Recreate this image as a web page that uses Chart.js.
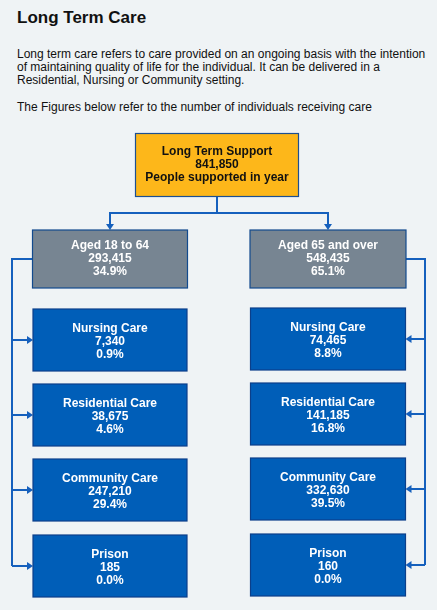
<!DOCTYPE html>
<html>
<head>
<meta charset="utf-8">
<script src="https://cdn.jsdelivr.net/npm/chart.js@4.4.1/dist/chart.umd.min.js"></script>
<style>
  body { margin: 0; background: #eff3f5; font-family: "Liberation Sans", Arial, sans-serif; }
  #wrap { position: relative; width: 437px; height: 610px; }
  h1 { position: absolute; left: 17px; top: 8px; margin: 0; font-size: 17px; font-weight: bold; color: #111; }
  .txt { position: absolute; left: 17px; margin: 0; font-size: 12px; line-height: 13px; color: #111; width: 410px; }
  #chart-box { position: absolute; left: 0; top: 120px; width: 437px; height: 490px; }
</style>
</head>
<body>
<div id="wrap">
  <h1>Long Term Care</h1>
  <p class="txt" style="top:48px">Long term care refers to care provided on an ongoing basis with the intention of maintaining quality of life for the individual. It can be delivered in a Residential, Nursing or Community setting.</p>
  <p class="txt" style="top:101px">The Figures below refer to the number of individuals receiving care</p>
  <div id="chart-box"><canvas id="c"></canvas></div>
</div>
<script>
// Nodes of the diagram: labels, counts, shares
const nodeLabels = ["Long Term Support", "Aged 18 to 64", "Aged 65 and over",
  "Nursing Care", "Residential Care", "Community Care", "Prison",
  "Nursing Care", "Residential Care", "Community Care", "Prison"];
const nodeCounts = ["841,850", "293,415", "548,435",
  "7,340", "38,675", "247,210", "185",
  "74,465", "141,185", "332,630", "160"];
const nodeShares = ["People supported in year", "34.9%", "65.1%",
  "0.9%", "4.6%", "29.4%", "0.0%",
  "8.8%", "16.8%", "39.5%", "0.0%"];
// layout grid (pixel-like units in the chart's own scale)
const nodeX = [217, 110, 328, 110, 110, 110, 110, 328, 328, 328, 328];
const nodeY = [165, 259, 259, 340, 415, 490, 566, 339, 414, 489, 565];
const nodeW = [163, 155, 156, 154, 154, 154, 154, 155, 155, 155, 155];
const nodeH = [63, 58, 58, 62, 62, 62, 62, 62, 62, 62, 62];
const nodeKind = ["top", "age", "age", "care", "care", "care", "care", "care", "care", "care", "care"];

const fills = { top: "#fdb71a", age: "#778592", care: "#005eb8" };
const borders = { top: "#1d4f91", age: "#124a8e", care: "#0b3f8a" };
const textCol = { top: "#111111", age: "#ffffff", care: "#ffffff" };
const LINE = "#1560bd";

function arrow(ctx, x, y, dir) {
  ctx.beginPath();
  if (dir === "down") { ctx.moveTo(x - 4, y - 6); ctx.lineTo(x + 4, y - 6); ctx.lineTo(x, y); }
  else if (dir === "right") { ctx.moveTo(x - 6, y - 4); ctx.lineTo(x - 6, y + 4); ctx.lineTo(x, y); }
  else { ctx.moveTo(x + 6, y - 4); ctx.lineTo(x + 6, y + 4); ctx.lineTo(x, y); }
  ctx.closePath(); ctx.fill();
}

const diagram = {
  id: "diagram",
  afterDatasetsDraw(chart) {
    const { ctx, scales: { x, y } } = chart;
    const px = v => x.getPixelForValue(v), py = v => y.getPixelForValue(v);
    const box = i => ({
      l: px(nodeX[i] - nodeW[i] / 2), r: px(nodeX[i] + nodeW[i] / 2),
      t: py(nodeY[i] - nodeH[i] / 2), b: py(nodeY[i] + nodeH[i] / 2),
      cx: px(nodeX[i]), cy: py(nodeY[i])
    });
    ctx.save();
    ctx.strokeStyle = LINE; ctx.fillStyle = LINE; ctx.lineWidth = 2;
    // top -> age groups
    const t = box(0), a1 = box(1), a2 = box(2);
    const mid = py(213);
    ctx.beginPath();
    ctx.moveTo(t.cx, t.b); ctx.lineTo(t.cx, mid);
    ctx.moveTo(a1.cx, a1.t - 5); ctx.lineTo(a1.cx, mid); ctx.lineTo(a2.cx, mid); ctx.lineTo(a2.cx, a2.t - 5);
    ctx.stroke();
    arrow(ctx, a1.cx, a1.t, "down"); arrow(ctx, a2.cx, a2.t, "down");
    // brackets
    const sides = [{ age: a1, kids: [3, 4, 5, 6], xv: 12, left: true },
                   { age: a2, kids: [7, 8, 9, 10], xv: 425, left: false }];
    sides.forEach(s => {
      const bx = px(s.xv);
      const last = box(s.kids[s.kids.length - 1]);
      ctx.beginPath();
      const startX = s.left ? s.age.l : s.age.r;
      ctx.moveTo(startX, s.age.cy); ctx.lineTo(bx, s.age.cy); ctx.lineTo(bx, last.cy);
      s.kids.forEach(k => {
        const b = box(k);
        const ex = s.left ? b.l : b.r;
        ctx.moveTo(bx, b.cy); ctx.lineTo(s.left ? ex - 5 : ex + 5, b.cy);
      });
      ctx.stroke();
      s.kids.forEach(k => {
        const b = box(k);
        arrow(ctx, s.left ? b.l : b.r, b.cy, s.left ? "right" : "left");
      });
    });
    // boxes
    nodeLabels.forEach((lab, i) => {
      const b = box(i), k = nodeKind[i];
      ctx.fillStyle = fills[k];
      ctx.fillRect(b.l, b.t, b.r - b.l, b.b - b.t);
      ctx.lineWidth = 1.2; ctx.strokeStyle = borders[k];
      ctx.strokeRect(b.l, b.t, b.r - b.l, b.b - b.t);
      ctx.fillStyle = textCol[k];
      ctx.font = "bold 12px 'Liberation Sans', Arial, sans-serif";
      ctx.textAlign = "center"; ctx.textBaseline = "middle";
      const lines = [lab, nodeCounts[i], nodeShares[i]];
      const off = k === "care" ? 2 : 0;
      lines.forEach((ln, j) => ctx.fillText(ln, b.cx, b.cy + (j - 1) * 13 + off));
    });
    ctx.restore();
  }
};

new Chart(document.getElementById("c"), {
  type: "scatter",
  data: { datasets: [{ data: nodeX.map((v, i) => ({ x: v, y: nodeY[i] })), pointRadius: 0 }] },
  options: {
    responsive: true, maintainAspectRatio: false, animation: false,
    layout: { padding: 0 },
    plugins: { legend: { display: false }, tooltip: { enabled: false } },
    scales: {
      x: { type: "linear", min: 0, max: 437, display: false },
      y: { type: "linear", min: 120, max: 610, reverse: true, display: false }
    }
  },
  plugins: [diagram]
});
</script>
</body>
</html>
